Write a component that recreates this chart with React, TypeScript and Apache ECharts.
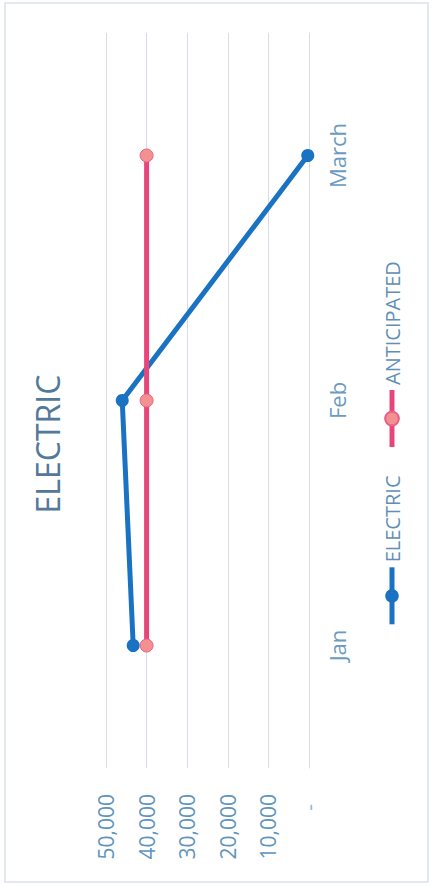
import React, { useEffect, useRef } from 'react';
import * as echarts from 'echarts';

const categories = ['Jan', 'Feb', 'March'];
const electricValues = [43300, 46000, 300];
const anticipatedValues = [40000, 40000, 40000];
const valueAxisMin = 0;
const valueAxisMax = 50000;
const valueAxisStep = 10000;

const FONT = '"Open Sans", "Noto Sans", sans-serif';

export default function App() {
  const ref = useRef<HTMLDivElement>(null);

  useEffect(() => {
    if (!ref.current) return;
    const chart = echarts.init(ref.current, null, { renderer: 'svg' });
    chart.setOption({
      animation: false,
      backgroundColor: '#ffffff',
      title: {
        text: 'ELECTRIC',
        left: 'center',
        top: 26,
        textStyle: {
          fontFamily: FONT,
          fontSize: 32,
          fontWeight: 'normal',
          color: '#52789a',
        },
      },
      legend: {
        left: 'center',
        top: 377,
        itemWidth: 57,
        itemHeight: 17,
        itemGap: 26,
        lineStyle: { width: 5 },
        textStyle: {
          fontFamily: FONT,
          fontSize: 20,
          color: '#5f8fb6',
        },
        data: ['ELECTRIC', 'ANTICIPATED'],
      },
      grid: {
        left: 120,
        right: 33,
        top: 106,
        bottom: 124,
        containLabel: false,
      },
      xAxis: {
        type: 'category',
        data: categories,
        boundaryGap: true,
        axisLine: { show: true, lineStyle: { color: '#d6dde8', width: 1 } },
        axisTick: { show: false },
        axisLabel: {
          margin: 17,
          fontFamily: FONT,
          fontSize: 22,
          color: '#6b9bc0',
        },
      },
      yAxis: {
        type: 'value',
        min: valueAxisMin,
        max: valueAxisMax,
        interval: valueAxisStep,
        axisLine: { show: false },
        axisTick: { show: false },
        splitLine: { show: true, lineStyle: { color: '#d6dde8', width: 1 } },
        axisLabel: {
          margin: 26,
          fontFamily: FONT,
          fontSize: 21,
          color: '#5f95bd',
          formatter: (v: number) =>
            v === 0 ? '{z|-}' : v.toLocaleString('en-US'),
          rich: {
            z: {
              fontFamily: FONT,
              fontSize: 21,
              color: '#9ab4c8',
              padding: [0, 10, 0, 0],
            },
          },
        },
      },
      graphic: [
        {
          type: 'rect',
          shape: { x: 6, y: 5, width: 879, height: 423 },
          style: { fill: 'none', stroke: '#dbe1ea', lineWidth: 1.5 },
          silent: true,
        },
      ],
      series: [
        {
          name: 'ELECTRIC',
          type: 'line',
          data: electricValues,
          symbol: 'circle',
          symbolSize: 13,
          lineStyle: { color: '#1a72c2', width: 5 },
          itemStyle: { color: '#1a72c2' },
          z: 2,
        },
        {
          name: 'ANTICIPATED',
          type: 'line',
          data: anticipatedValues,
          symbol: 'circle',
          symbolSize: 13,
          lineStyle: { color: '#e8467a', width: 5 },
          itemStyle: { color: '#f2918f', borderColor: '#e8628a', borderWidth: 1 },
          z: 3,
        },
      ],
    });
    return () => chart.dispose();
  }, []);

  return (
    <div
      style={{
        position: 'fixed',
        left: 0,
        top: 0,
        width: 433,
        height: 888,
        overflow: 'hidden',
        background: '#ffffff',
      }}
    >
      <div
        ref={ref}
        style={{
          position: 'absolute',
          left: 0,
          top: 0,
          width: 888,
          height: 433,
          transformOrigin: '0 0',
          transform: 'translateY(888px) rotate(-90deg)',
        }}
      />
    </div>
  );
}
